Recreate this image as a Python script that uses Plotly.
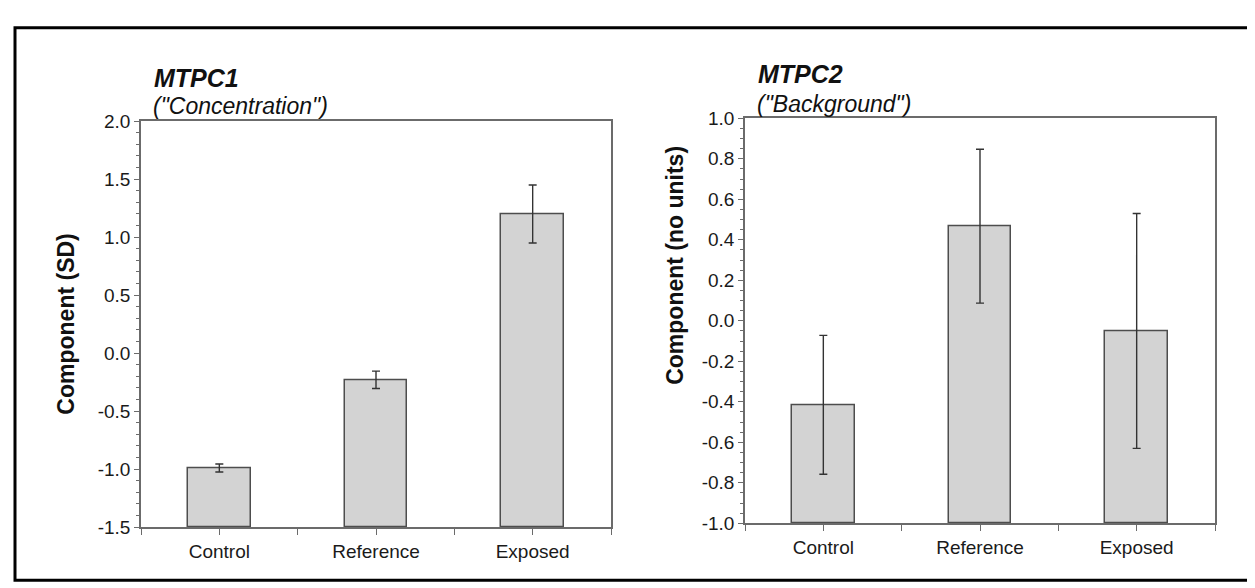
import plotly.graph_objects as go

categories = ["Control", "Reference", "Exposed"]
mtpc1_mean = [-0.99, -0.23, 1.20]
mtpc1_err = [0.035, 0.075, 0.25]
mtpc2_mean = [-0.415, 0.467, -0.05]
mtpc2_err = [0.343, 0.38, 0.58]
mtpc1_ticks = [-1.5, -1.0, -0.5, 0.0, 0.5, 1.0, 1.5, 2.0]
mtpc2_ticks = [-1.0, -0.8, -0.6, -0.4, -0.2, 0.0, 0.2, 0.4, 0.6, 0.8, 1.0]

W, H = 1255, 588
FONT = "Arial, Liberation Sans, sans-serif"
BAR_FILL = "#d3d3d3"
BAR_LINE = "#4d4d4d"
AX = "#6b6b6b"

def px_x(p):
    return p / W

def px_y(p):
    return (H - p) / H

xpos = list(range(len(categories)))
fig = go.Figure()

panels = [
    (mtpc1_mean, mtpc1_err, -1.5, 2.0, "x", "y"),
    (mtpc2_mean, mtpc2_err, -1.0, 1.0, "x2", "y2"),
]
for mean, err, lo, hi, xa, ya in panels:
    fig.add_trace(go.Bar(
        x=xpos, y=[m - lo for m in mean], base=lo, width=0.40,
        marker=dict(color=BAR_FILL, line=dict(color=BAR_LINE, width=1.5)),
        xaxis=xa, yaxis=ya, showlegend=False, hoverinfo="skip"))
    fig.add_trace(go.Scatter(
        x=xpos, y=mean, mode="markers",
        marker=dict(size=1, color="rgba(0,0,0,0)"),
        error_y=dict(type="data", array=err, visible=True, color="#333333",
                     thickness=1.4, width=4),
        xaxis=xa, yaxis=ya, showlegend=False, hoverinfo="skip"))

xticks = [-0.5, 0, 0.5, 1, 1.5, 2, 2.5]
xtext = ["", categories[0], "", categories[1], "", categories[2], ""]

common_x = dict(range=[-0.5, 2.5], tickvals=xticks, ticktext=xtext,
                ticks="outside", ticklen=6, tickwidth=1.3, tickcolor=AX,
                showline=True, linecolor=AX, linewidth=1.6, mirror=True,
                showgrid=False, zeroline=False,
                tickfont=dict(family=FONT, size=19, color="#1a1a1a"))
common_y = dict(ticks="outside", ticklen=5, tickwidth=1.3, tickcolor=AX,
                showline=True, linecolor=AX, linewidth=1.6, mirror=True,
                showgrid=False, zeroline=False,
                tickfont=dict(family=FONT, size=19, color="#1a1a1a"))

fig.update_layout(
    width=W, height=H, autosize=False,
    margin=dict(l=0, r=0, t=0, b=0),
    paper_bgcolor="white", plot_bgcolor="white",
    bargap=0,
    xaxis=dict(domain=[px_x(133), px_x(603)], anchor="y", **common_x),
    yaxis=dict(domain=[px_y(528), px_y(107)], anchor="x", range=[-1.5, 2.0],
               tickvals=mtpc1_ticks, ticktext=[f"{v:.1f}" for v in mtpc1_ticks],
               minor=dict(dtick=0.1, ticks="outside", ticklen=3, tickcolor=AX, tickwidth=1),
               **common_y),
    xaxis2=dict(domain=[px_x(737), px_x(1207)], anchor="y2", **common_x),
    yaxis2=dict(domain=[px_y(524), px_y(104)], anchor="x2", range=[-1.0, 1.0],
                tickvals=mtpc2_ticks, ticktext=[f"{v:.1f}" for v in mtpc2_ticks],
                minor=dict(dtick=0.05, ticks="outside", ticklen=3, tickcolor=AX, tickwidth=1),
                **common_y),
)

ann = [
    dict(text="<b><i>MTPC1</i></b>", x=px_x(144), y=px_y(62), size=25),
    dict(text="<i>(\"Concentration\")</i>", x=px_x(143), y=px_y(91), size=23),
    dict(text="<b><i>MTPC2</i></b>", x=px_x(748), y=px_y(58), size=25),
    dict(text="<i>(\"Background\")</i>", x=px_x(747), y=px_y(89), size=23),
]
for a in ann:
    fig.add_annotation(text=a["text"], x=a["x"], y=a["y"], xref="paper", yref="paper",
                       xanchor="left", yanchor="middle", showarrow=False,
                       font=dict(family=FONT, size=a["size"], color="#111111"))

fig.add_annotation(text="<b>Component (SD)</b>", x=px_x(58), y=px_y(318),
                   xref="paper", yref="paper", textangle=-90, showarrow=False,
                   xanchor="center", yanchor="middle",
                   font=dict(family=FONT, size=23, color="#111111"))
fig.add_annotation(text="<b>Component (no units)</b>", x=px_x(667), y=px_y(257),
                   xref="paper", yref="paper", textangle=-90, showarrow=False,
                   xanchor="center", yanchor="middle",
                   font=dict(family=FONT, size=23, color="#111111"))

fig.add_shape(type="rect", xref="paper", yref="paper",
              x0=px_x(7), x1=px_x(1249), y0=px_y(583), y1=px_y(10),
              line=dict(color="black", width=3), fillcolor="rgba(0,0,0,0)")

fig.write_html("out.html")
